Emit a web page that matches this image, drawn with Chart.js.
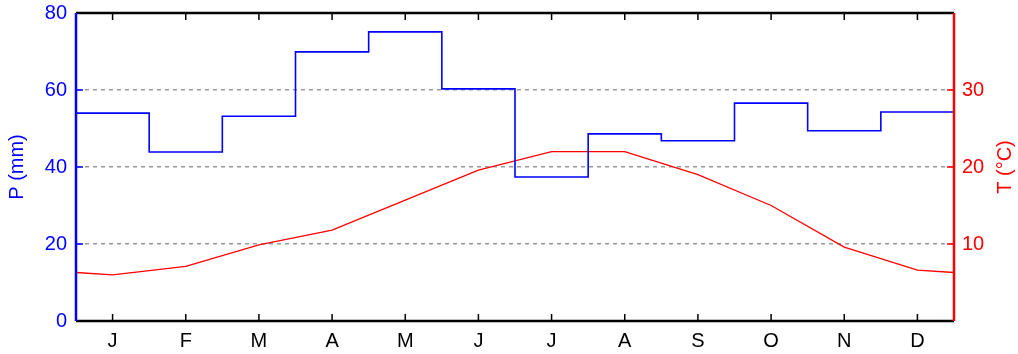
<!DOCTYPE html>
<html>
<head>
<meta charset="utf-8">
<script src="https://cdn.jsdelivr.net/npm/chart.js@4"></script>
<style>
  html, body { margin: 0; padding: 0; background: #fff; }
  #wrap { width: 1018px; height: 354px; }
</style>
</head>
<body>
<div id="wrap"><canvas id="myChart"></canvas></div>
<script>
const months = ['J', 'F', 'M', 'A', 'M', 'J', 'J', 'A', 'S', 'O', 'N', 'D'];

// precipitation per month (mm), step line
const precip = [54.0, 43.9, 53.2, 69.9, 75.1, 60.3, 37.4, 48.6, 46.8, 56.6, 49.4, 54.3];

// temperature at month centres (°C)
const temp = [6.0, 7.1, 9.9, 11.8, 15.7, 19.6, 22.0, 22.0, 19.0, 15.0, 9.6, 6.6];
// temperature at the year's edges
const tempEdge = 6.3;

const pTicks = [0, 20, 40, 60, 80];
const tTicks = [10, 20, 30];

const BLUE = '#0000ff';
const RED = '#ff0000';
const FONT = { family: "'Liberation Sans', Arial, sans-serif", size: 20 };

const precipPts = precip.map((v, i) => ({ x: i, y: v }));
precipPts.push({ x: 12, y: precip[11] });

const tempPts = [{ x: 0, y: tempEdge }];
temp.forEach((v, i) => tempPts.push({ x: i + 0.5, y: v }));
tempPts.push({ x: 12, y: tempEdge });

// frame, inward ticks and the right axis title
const frame = {
  id: 'frame',
  afterDatasetsDraw(chart) {
    const { ctx, chartArea: a, scales } = chart;
    const len = 7;
    ctx.save();
    ctx.lineWidth = 1.5;
    ctx.strokeStyle = '#000';
    months.forEach((m, i) => {
      const px = scales.x.getPixelForValue(i + 0.5);
      ctx.beginPath();
      ctx.moveTo(px, a.bottom); ctx.lineTo(px, a.bottom - len);
      ctx.moveTo(px, a.top); ctx.lineTo(px, a.top + len);
      ctx.stroke();
    });
    ctx.strokeStyle = BLUE;
    pTicks.forEach(v => {
      const py = scales.y.getPixelForValue(v);
      ctx.beginPath(); ctx.moveTo(a.left, py); ctx.lineTo(a.left + len, py); ctx.stroke();
    });
    ctx.strokeStyle = RED;
    tTicks.forEach(v => {
      const py = scales.y2.getPixelForValue(v);
      ctx.beginPath(); ctx.moveTo(a.right, py); ctx.lineTo(a.right - len, py); ctx.stroke();
    });

    ctx.lineWidth = 2.5;
    ctx.strokeStyle = '#000';
    ctx.beginPath();
    ctx.moveTo(a.left, a.top); ctx.lineTo(a.right, a.top);
    ctx.moveTo(a.left, a.bottom); ctx.lineTo(a.right, a.bottom);
    ctx.stroke();
    ctx.strokeStyle = BLUE;
    ctx.beginPath(); ctx.moveTo(a.left, a.top); ctx.lineTo(a.left, a.bottom); ctx.stroke();
    ctx.strokeStyle = RED;
    ctx.beginPath(); ctx.moveTo(a.right, a.top); ctx.lineTo(a.right, a.bottom); ctx.stroke();

    ctx.fillStyle = RED;
    ctx.font = '20px ' + FONT.family;
    ctx.textAlign = 'center';
    ctx.textBaseline = 'middle';
    ctx.translate(1005, (a.top + a.bottom) / 2);
    ctx.rotate(-Math.PI / 2);
    ctx.fillText('T (°C)', 0, 0);
    ctx.restore();
  }
};

const noPad = s => { s.paddingTop = 0; s.paddingBottom = 0; };

const config = {
  type: 'line',
  data: {
    datasets: [
      {
        label: 'P (mm)',
        data: precipPts,
        yAxisID: 'y',
        stepped: true,
        borderColor: BLUE,
        borderWidth: 1.6,
        pointRadius: 0,
        fill: false
      },
      {
        label: 'T (°C)',
        data: tempPts,
        yAxisID: 'y2',
        borderColor: RED,
        borderWidth: 1.3,
        pointRadius: 0,
        tension: 0,
        fill: false
      }
    ]
  },
  options: {
    responsive: true,
    maintainAspectRatio: false,
    animation: false,
    layout: { padding: { top: 13, left: 0, right: 0, bottom: 0 } },
    plugins: { legend: { display: false }, tooltip: { enabled: false } },
    scales: {
      x: {
        type: 'linear',
        min: 0,
        max: 12,
        afterBuildTicks: s => { s.ticks = months.map((m, i) => ({ value: i + 0.5 })); },
        ticks: {
          callback: (v) => months[Math.floor(v)],
          color: '#000',
          font: FONT,
          padding: 8,
          maxRotation: 0,
          autoSkip: false
        },
        grid: { display: false, drawTicks: false },
        border: { display: false },
        afterFit: s => { s.height = 33; s.paddingLeft = 0; s.paddingRight = 0; }
      },
      y: {
        position: 'left',
        min: 0,
        max: 80,
        afterBuildTicks: s => { s.ticks = pTicks.map(v => ({ value: v })); },
        ticks: { color: BLUE, font: FONT, padding: 9 },
        title: { display: true, text: 'P (mm)', color: BLUE, font: FONT, padding: { top: 5, bottom: 0 } },
        grid: {
          drawTicks: false,
          color: c => (c.tick && (c.tick.value === 0 || c.tick.value === 80)) ? 'rgba(0,0,0,0)' : '#999',
          lineWidth: 1.5
        },
        border: { display: true, color: 'rgba(0,0,0,0)', dash: [4, 4] },
        afterFit: s => { s.width = 76; noPad(s); }
      },
      y2: {
        position: 'right',
        min: 0,
        max: 40,
        afterBuildTicks: s => { s.ticks = tTicks.map(v => ({ value: v })); },
        ticks: { color: RED, font: FONT, padding: 8 },
        grid: { display: false, drawTicks: false },
        border: { display: false },
        afterFit: s => { s.width = 64; noPad(s); }
      }
    }
  },
  plugins: [frame]
};

const myChart = new Chart(document.getElementById('myChart'), config);
</script>
</body>
</html>
